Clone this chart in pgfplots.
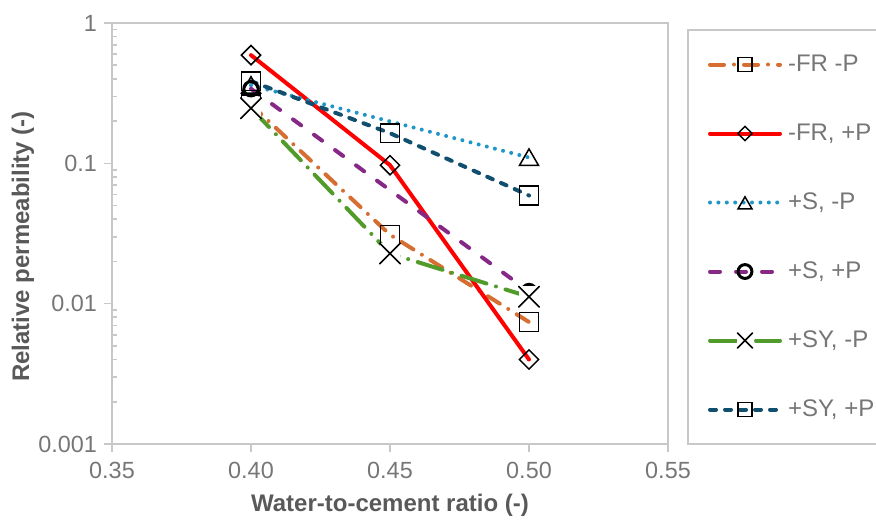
\documentclass[border=0pt]{standalone}
\usepackage{fontspec}
\setmainfont{Liberation Sans}
\usepackage{pgfplots}
\pgfplotsset{compat=1.18}
\usetikzlibrary{calc}

\definecolor{cOrange}{RGB}{214,110,50}
\definecolor{cRed}{RGB}{255,0,0}
\definecolor{cLBlue}{RGB}{30,150,200}
\definecolor{cPurple}{RGB}{135,40,135}
\definecolor{cGreen}{RGB}{80,155,42}
\definecolor{cDBlue}{RGB}{16,80,110}
\definecolor{axgray}{RGB}{200,200,200}
\definecolor{tickgray}{RGB}{118,118,118}
\definecolor{labgray}{RGB}{89,89,89}

% Excel style X marker: white box behind the cross
\pgfdeclareplotmark{xbox}{%
  \pgfpathrectangle{\pgfpoint{-\pgfplotmarksize}{-\pgfplotmarksize}}{\pgfpoint{2\pgfplotmarksize}{2\pgfplotmarksize}}%
  \pgfusepath{fill}%
  \pgfpathmoveto{\pgfpoint{-\pgfplotmarksize}{-\pgfplotmarksize}}%
  \pgfpathlineto{\pgfpoint{\pgfplotmarksize}{\pgfplotmarksize}}%
  \pgfpathmoveto{\pgfpoint{-\pgfplotmarksize}{\pgfplotmarksize}}%
  \pgfpathlineto{\pgfpoint{\pgfplotmarksize}{-\pgfplotmarksize}}%
  \pgfusepath{stroke}}

\pgfplotsset{
  mk/.style={mark options={solid, draw=black, fill=white, line width=0.75pt, #1}},
  mk/.default={},
}

\begin{document}
\begin{tikzpicture}
\begin{axis}[
  name=ax,
  scale only axis,
  width=278pt, height=210.5pt,
  xmin=0.35, xmax=0.55,
  ymode=log, ymin=0.001, ymax=1,
  xtick={0.35,0.40,0.45,0.50,0.55},
  xticklabels={0.35,0.40,0.45,0.50,0.55},
  ytick={0.001,0.01,0.1,1},
  yticklabels={0.001,0.01,0.1,1},
  minor ytick={0.002,0.003,0.004,0.005,0.006,0.007,0.008,0.009,
               0.02,0.03,0.04,0.05,0.06,0.07,0.08,0.09,
               0.2,0.3,0.4,0.5,0.6,0.7,0.8,0.9},
  xtick pos=bottom, ytick pos=left,
  tick align=outside,
  major tick length=4pt,
  minor tick length=2.5pt,
  minor tick style={xshift=2.5pt},
  axis line style={draw=axgray, line width=1pt},
  tick style={draw=axgray, line width=0.8pt},
  tick label style={font=\fontsize{11.7}{14}\selectfont, text=tickgray},
  xticklabel style={yshift=-1.5pt},
  label style={font=\bfseries\fontsize{12}{14}\selectfont, text=labgray},
  xlabel={Water-to-cement ratio (-)},
  ylabel={Relative permeability (-)},
  x label style={at={(axis description cs:0.5,-0.145)}, anchor=center},
  y label style={at={(axis description cs:-0.16,0.469)}, anchor=center},
  every axis plot/.append style={line width=2pt, line cap=round},
  legend image code/.code={
    \path (0pt,0pt);
    \draw[mark repeat=2,mark phase=2,#1,every mark/.append style={scale=0.74}]
      plot coordinates {(10pt,0pt) (27.5pt,0pt) (45pt,0pt)};
  },
  legend style={at={(rel axis cs:1,1)}, anchor=north west, xshift=9.5pt, yshift=-3pt,
    draw=axgray, line width=1pt, inner xsep=0pt, inner ysep=0pt, row sep=0pt,
    font=\fontsize{12}{14}\selectfont, text=tickgray,
    nodes={inner sep=0pt, minimum height=34.5pt},
    cells={anchor=west},
    /tikz/every odd column/.append style={column sep=3pt}},
]
\addplot[cOrange, dash pattern=on 7pt off 5pt on 0pt off 5pt, mark=square, mark size=4.7pt, mk]
  coordinates {(0.40,0.262) (0.45,0.031) (0.50,0.0074)};
\addlegendentry{\makebox[46pt][l]{-FR -P}}
\addplot[cRed, mark=square, mark size=3.4pt, mk={rotate=45}]
  coordinates {(0.40,0.59) (0.45,0.097) (0.50,0.0040)};
\addlegendentry{\makebox[46pt][l]{-FR, +P}}
\addplot[cLBlue, dash pattern=on 0pt off 4.2pt, mark=triangle, mark size=5.5pt, mk={yshift=-1.2pt}]
  coordinates {(0.40,0.36) (0.50,0.110)};
\addlegendentry{\makebox[46pt][l]{+S, -P}}
\addplot[cPurple, dash pattern=on 5pt off 8pt, mark=o, mark size=3.6pt, mk={line width=1.5pt},
  legend image post style={every mark/.append style={scale=1.3}}]
  coordinates {(0.40,0.34) (0.50,0.0122)};
\addlegendentry{\makebox[46pt][l]{+S, +P}}
\addplot[cGreen, dash pattern=on 13pt off 5pt on 0pt off 5pt, mark=xbox, mark size=5.2pt, mk]
  coordinates {(0.40,0.247) (0.45,0.0228) (0.50,0.0112)};
\addlegendentry{\makebox[46pt][l]{+SY, -P}}
\addplot[cDBlue, dash pattern=on 3pt off 4.5pt, mark=square, mark size=4.7pt, mk]
  coordinates {(0.40,0.385) (0.45,0.164) (0.50,0.059)};
\addlegendentry{\makebox[46pt][l]{+SY, +P}}
\end{axis}
\pgfresetboundingbox
\path ($(ax.south west)+(-56pt,-38pt)$) rectangle ($(ax.south west)+(382pt,222pt)$);
\end{tikzpicture}
\end{document}
